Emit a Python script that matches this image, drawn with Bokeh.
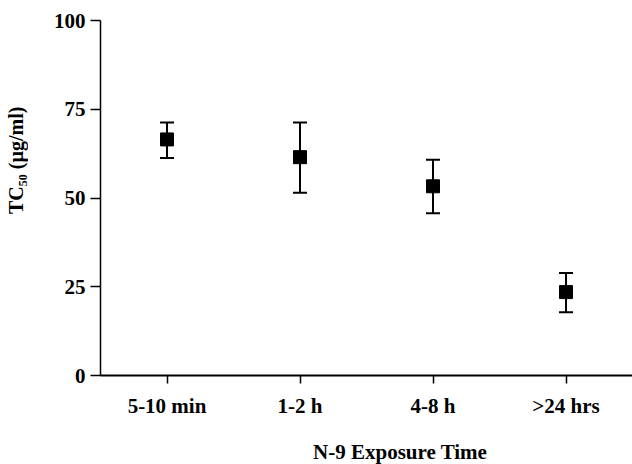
from bokeh.plotting import figure
from bokeh.layouts import column, row
from bokeh.models import ColumnDataSource, Whisker, TeeHead, Range1d, FixedTicker, Div
from bokeh.embed import file_html
from bokeh.resources import INLINE

categories = ["5-10 min", "1-2 h", "4-8 h", ">24 hrs"]
tc50 = [66.5, 61.5, 53.3, 23.5]
err_upper = [71.3, 71.3, 60.8, 28.9]
err_lower = [61.3, 51.5, 45.7, 17.8]
y_ticks = [0, 25, 50, 75, 100]

x_title = "N-9 Exposure Time"
y_title = "TC\u2085\u2080 (\u00b5g/ml)"

FONT = "Liberation Serif"

xpos = list(range(len(categories)))
src = ColumnDataSource(dict(x=xpos, y=tc50, upper=err_upper, lower=err_lower))

p = figure(width=592, height=420, output_backend="svg", toolbar_location=None,
           x_range=Range1d(-0.5, 3.5), y_range=Range1d(0, 100),
           min_border_left=60, min_border_right=0, min_border_top=20,
           min_border_bottom=43, margin=0)
p.outline_line_color = None
p.xgrid.visible = False
p.ygrid.visible = False
p.background_fill_color = "white"
p.border_fill_color = "white"

# error bars
wh = Whisker(source=src, base="x", upper="upper", lower="lower",
             line_color="black", line_width=2,
             upper_head=TeeHead(size=14, line_color="black", line_width=2),
             lower_head=TeeHead(size=14, line_color="black", line_width=2))
p.add_layout(wh)

p.scatter("x", "y", source=src, marker="square", size=13,
          fill_color="black", line_color="black")

# x axis
xa = p.xaxis[0]
xa.ticker = FixedTicker(ticks=xpos)
xa.major_label_overrides = {i: c for i, c in zip(xpos, categories)}
xa.minor_tick_line_color = None
xa.major_tick_in = 0
xa.major_tick_out = 8
xa.major_tick_line_width = 1.5
xa.major_tick_line_color = "black"
xa.axis_line_width = 2
xa.axis_line_color = "black"
xa.major_label_text_font = FONT
xa.major_label_text_font_style = "bold"
xa.major_label_text_font_size = "21px"
xa.major_label_text_color = "black"
xa.major_label_standoff = 10

# y axis
ya = p.yaxis[0]
ya.ticker = FixedTicker(ticks=y_ticks)
ya.minor_tick_line_color = None
ya.major_tick_in = 0
ya.major_tick_out = 10
ya.major_tick_line_width = 1.5
ya.major_tick_line_color = "black"
ya.axis_line_width = 1.5
ya.axis_line_color = "black"
ya.major_label_text_font = FONT
ya.major_label_text_font_style = "bold"
ya.major_label_text_font_size = "21px"
ya.major_label_text_color = "black"
ya.major_label_standoff = 5

# axis titles as HTML text
ydiv = Div(width=40, height=420, margin=0, text=(
    '<div style="box-sizing:border-box;width:40px;height:420px;'
    'padding-top:100px;padding-right:4px;writing-mode:vertical-rl;'
    'transform:rotate(180deg);text-align:center;'
    "font-family:'Liberation Serif';font-weight:bold;font-size:20px;"
    'line-height:24px;color:black;white-space:nowrap;">'
    + y_title + '</div>'))
xdiv = Div(width=632, height=44, margin=0, text=(
    '<div style="box-sizing:border-box;width:632px;height:44px;'
    'padding-left:168px;padding-top:21px;text-align:center;'
    "font-family:'Liberation Serif';font-weight:bold;font-size:21px;"
    'line-height:22px;color:black;white-space:nowrap;">'
    + x_title + '</div>'))

layout = column(row(ydiv, p, spacing=0, margin=0), xdiv, spacing=0, margin=0)

open("out.html", "w").write(file_html(layout, INLINE))
